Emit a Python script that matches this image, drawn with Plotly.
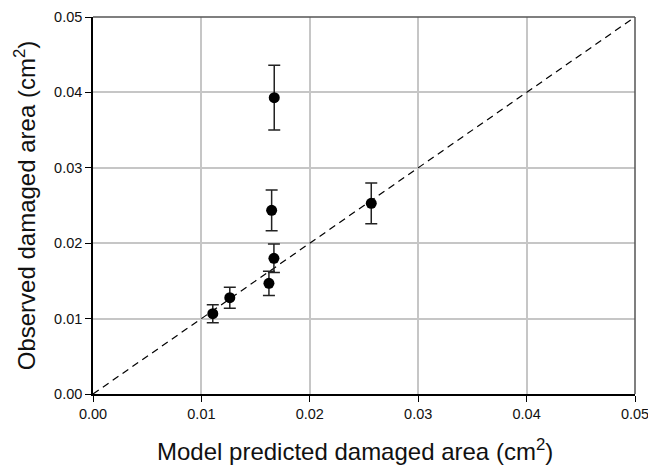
import plotly.graph_objects as go

# Model vs observed damaged area (cm^2), with standard-error bars
predicted = [0.01105, 0.01262, 0.01623, 0.01669, 0.01648, 0.01672, 0.02567]
observed = [0.01065, 0.01277, 0.01468, 0.01800, 0.02436, 0.03930, 0.02529]
obs_error = [0.0012, 0.0014, 0.0016, 0.0019, 0.0027, 0.0043, 0.0027]

# 1:1 reference line
line_x = [0.0, 0.05]
line_y = [0.0, 0.05]

tick_vals = [0.00, 0.01, 0.02, 0.03, 0.04, 0.05]
tick_text = ["0.00", "0.01", "0.02", "0.03", "0.04", "0.05"]

FONT = "Liberation Sans, Arial, sans-serif"

fig = go.Figure()

fig.add_trace(go.Scatter(
    x=line_x, y=line_y, mode="lines",
    line=dict(color="black", width=1.2, dash="7px,5px"),
    showlegend=False, hoverinfo="skip",
))

fig.add_trace(go.Scatter(
    x=predicted, y=observed, mode="markers",
    marker=dict(color="black", size=11),
    error_y=dict(type="data", array=obs_error, visible=True,
                 color="#222222", thickness=1.5, width=6),
    showlegend=False,
))

axis_common = dict(
    range=[0, 0.05],
    tickvals=tick_vals,
    ticktext=tick_text,
    showgrid=True,
    gridcolor="#c6c6c6",
    gridwidth=1.5,
    zeroline=False,
    showline=True,
    linecolor="black",
    linewidth=1.5,
    ticks="outside",
    ticklen=6,
    tickwidth=1.2,
    tickcolor="black",
    automargin=False,
    ticklabeloverflow="allow",
    tickfont=dict(family=FONT, size=14.5, color="#111111"),
)

fig.update_xaxes(**axis_common)
fig.update_yaxes(
    **axis_common,
    ticklabelstandoff=0,
    title=dict(text="Observed damaged area (cm<sup>2</sup>)",
               font=dict(family=FONT, size=24, color="#111111"),
               standoff=12),
)

# x-axis title, set slightly left of the plot centre
fig.add_annotation(
    text="Model predicted damaged area (cm<sup>2</sup>)",
    xref="paper", yref="paper", x=0.483, y=-0.149,
    xanchor="center", yanchor="middle", showarrow=False,
    font=dict(family=FONT, size=24, color="#111111"),
)

# Top and right frame edges
fig.add_shape(type="line", xref="paper", yref="paper", x0=0, x1=1, y0=1, y1=1,
              line=dict(color="#555555", width=1.5))
fig.add_shape(type="line", xref="paper", yref="paper", x0=1, x1=1, y0=0, y1=1,
              line=dict(color="#555555", width=1.5))

fig.update_layout(
    width=648, height=465,
    margin=dict(l=93, r=13, t=17, b=71),
    plot_bgcolor="white",
    paper_bgcolor="white",
)

fig.write_html("out.html")
